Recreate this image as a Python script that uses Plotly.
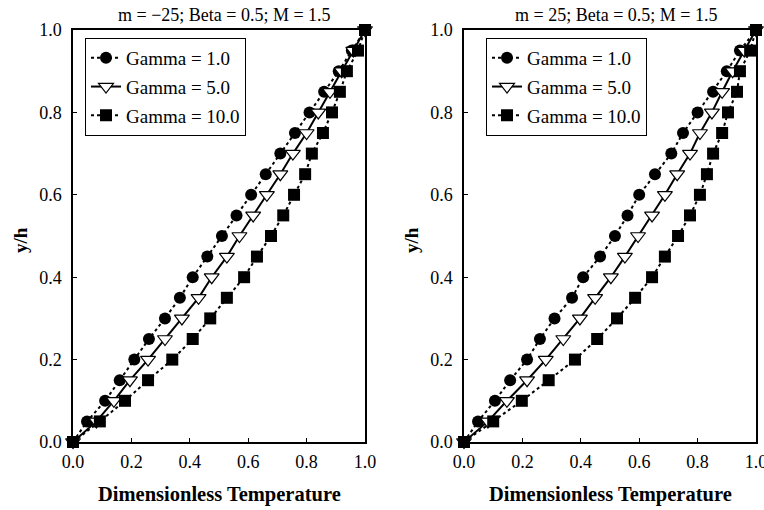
import plotly.graph_objects as go

# Dimensionless height y/h at which the profiles are sampled
y_over_h = [0.0, 0.05, 0.10, 0.15, 0.20, 0.25, 0.30, 0.35, 0.40, 0.45, 0.50,
            0.55, 0.60, 0.65, 0.70, 0.75, 0.80, 0.85, 0.90, 0.95, 1.0]

# m = -25 : dimensionless temperature for each Gamma
temp_m_neg_g1 = [0.0, 0.048, 0.11, 0.16, 0.21, 0.26, 0.315, 0.366, 0.41, 0.46, 0.51,
                 0.56, 0.61, 0.66, 0.71, 0.76, 0.81, 0.86, 0.91, 0.955, 1.0]
temp_m_neg_g5 = [0.0, 0.08, 0.14, 0.195, 0.257, 0.315, 0.373, 0.43, 0.475, 0.527, 0.57,
                 0.617, 0.664, 0.71, 0.753, 0.80, 0.84, 0.88, 0.92, 0.96, 1.0]
temp_m_neg_g10 = [0.0, 0.092, 0.178, 0.257, 0.34, 0.41, 0.47, 0.527, 0.586, 0.63, 0.678,
                  0.72, 0.757, 0.795, 0.818, 0.856, 0.887, 0.914, 0.938, 0.976, 1.0]

# m = 25 : dimensionless temperature for each Gamma
temp_m_pos_g1 = [0.0, 0.048, 0.106, 0.158, 0.216, 0.26, 0.31, 0.37, 0.408, 0.466, 0.517,
                 0.56, 0.60, 0.654, 0.71, 0.75, 0.80, 0.853, 0.90, 0.945, 1.0]
temp_m_pos_g5 = [0.0, 0.082, 0.147, 0.216, 0.28, 0.34, 0.397, 0.449, 0.503, 0.551, 0.596,
                 0.644, 0.688, 0.73, 0.774, 0.808, 0.849, 0.884, 0.92, 0.96, 1.0]
temp_m_pos_g10 = [0.0, 0.10, 0.198, 0.29, 0.38, 0.456, 0.524, 0.586, 0.644, 0.688, 0.733,
                  0.774, 0.808, 0.832, 0.853, 0.884, 0.904, 0.935, 0.945, 0.98, 1.0]

series_names = ["Gamma = 1.0", "Gamma = 5.0", "Gamma = 10.0"]
panel_titles = ["m = \u221225; Beta = 0.5; M = 1.5", "m = 25; Beta = 0.5; M = 1.5"]
tick_vals = [0.0, 0.2, 0.4, 0.6, 0.8, 1.0]
tick_text = ["0.0", "0.2", "0.4", "0.6", "0.8", "1.0"]

SERIF = "Liberation Serif"

styles = [
    dict(marker=dict(symbol="circle", size=12, color="black"),
         line=dict(color="black", width=2, dash="dot")),
    dict(marker=dict(symbol="triangle-down", size=13, color="white",
                     line=dict(color="black", width=1.2)),
         line=dict(color="black", width=2)),
    dict(marker=dict(symbol="square", size=12, color="black"),
         line=dict(color="black", width=2, dash="dot")),
]

panels = [
    ([temp_m_neg_g1, temp_m_neg_g5, temp_m_neg_g10], "x", "y", "legend"),
    ([temp_m_pos_g1, temp_m_pos_g5, temp_m_pos_g10], "x2", "y2", "legend2"),
]

fig = go.Figure()
for p, (series, xa, ya, leg) in enumerate(panels):
    for i, xs in enumerate(series):
        fig.add_trace(go.Scatter(
            x=xs, y=y_over_h, mode="lines+markers", name=series_names[i],
            xaxis=xa, yaxis=ya, legend=leg, legendgroup=f"p{p}g{i}",
            cliponaxis=False, **styles[i]))

x_domains = [[73 / 764, 365 / 764], [464 / 764, 756 / 764]]
y_domain = [(510 - 442) / 510, (510 - 30) / 510]

axis_common = dict(
    range=[0, 1], tickvals=tick_vals, ticktext=tick_text, automargin=False,
    showgrid=False, zeroline=False, showline=True, linecolor="black", linewidth=1.5,
    mirror=True, ticks="inside", ticklen=4, tickcolor="black",
    ticklabeloverflow="allow",
    tickfont=dict(family=SERIF, size=18, color="black"),
)

layout = dict(
    width=764, height=510, margin=dict(l=0, r=0, t=0, b=0),
    paper_bgcolor="white", plot_bgcolor="white", showlegend=True,
    font=dict(family=SERIF, color="black"),
)
for k, dom in enumerate(x_domains):
    sx = "" if k == 0 else "2"
    layout[f"xaxis{sx}"] = dict(axis_common, domain=dom, anchor=f"y{sx}", ticklabelstandoff=3)
    layout[f"yaxis{sx}"] = dict(axis_common, domain=y_domain, anchor=f"x{sx}", ticklabelstandoff=6)

legend_common = dict(
    bgcolor="white", bordercolor="black", borderwidth=1,
    font=dict(family=SERIF, size=19, color="black"),
    xanchor="left", yanchor="top", tracegroupgap=1, itemwidth=30,
)
layout["legend"] = dict(legend_common, x=85 / 764, y=1 - 38 / 510)
layout["legend2"] = dict(legend_common, x=486 / 764, y=1 - 38 / 510)

fig.update_layout(**layout)

annotations = []
for k, dom in enumerate(x_domains):
    cx = (dom[0] + dom[1]) / 2
    annotations.append(dict(text=panel_titles[k], x=cx + 6 / 764, y=1 - 15 / 510,
                            xref="paper", yref="paper", xanchor="center", yanchor="middle",
                            showarrow=False, font=dict(family=SERIF, size=18, color="black")))
    annotations.append(dict(text="<b>Dimensionless Temperature</b>", x=cx, y=1 - 494 / 510,
                            xref="paper", yref="paper", xanchor="center", yanchor="middle",
                            showarrow=False, font=dict(family=SERIF, size=20.5, color="black")))
    annotations.append(dict(text="<b>y/h</b>", x=(dom[0] * 764 - 53) / 764, y=1 - 240 / 510,
                            xref="paper", yref="paper", xanchor="center", yanchor="middle",
                            showarrow=False, textangle=-90,
                            font=dict(family=SERIF, size=19, color="black")))
fig.update_layout(annotations=annotations)

fig.write_html("out.html")
